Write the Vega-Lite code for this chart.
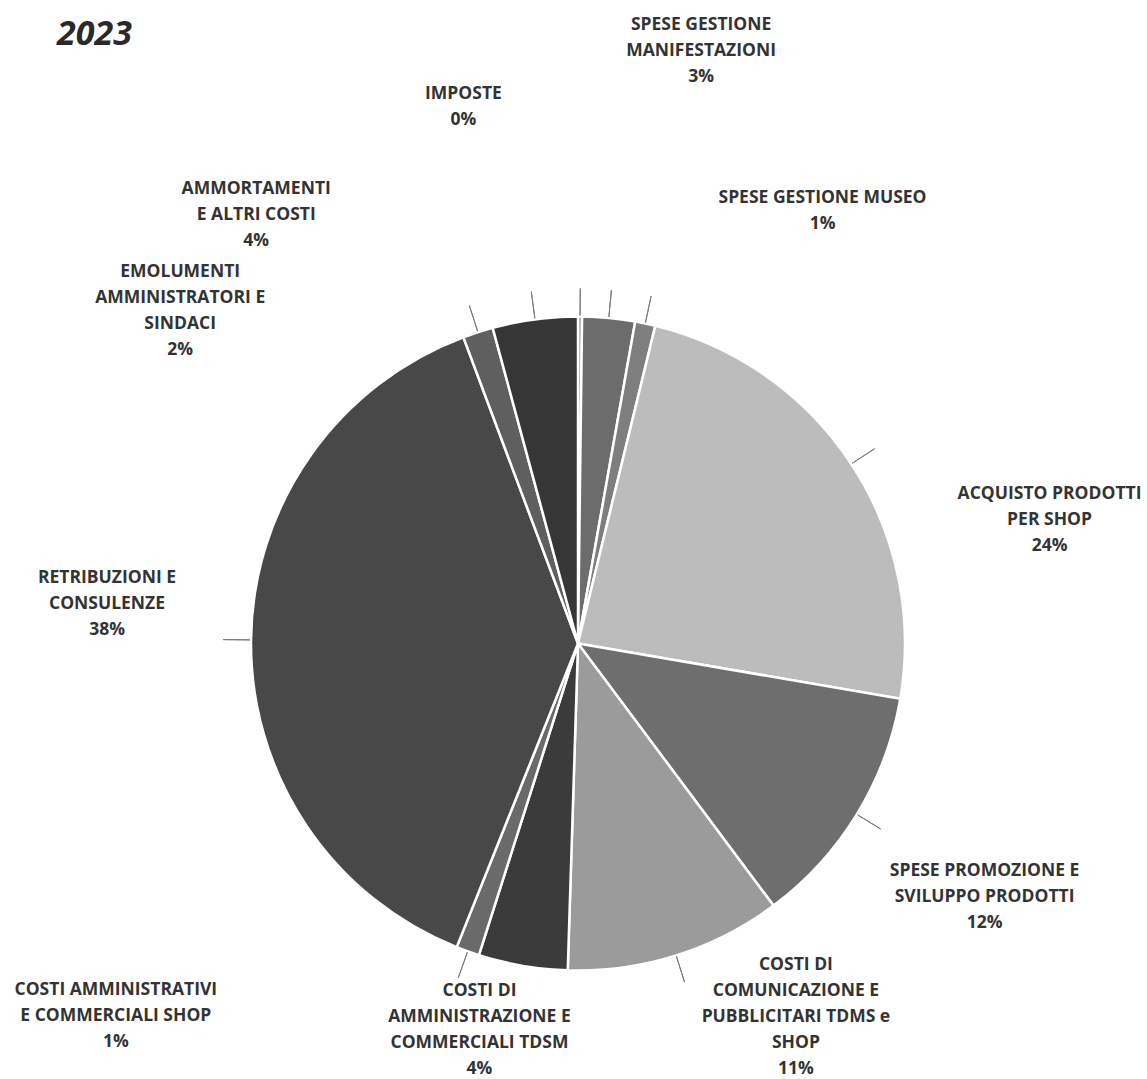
{
  "$schema": "https://vega.github.io/schema/vega-lite/v6.json",
  "autosize": {"type": "none"},
  "width": 1138,
  "height": 871,
  "padding": {"left": 9, "top": 208, "right": 0, "bottom": 0},
  "background": "white",
  "title": {
    "text": "2023",
    "anchor": "start",
    "frame": "group",
    "font": "Open Sans",
    "fontSize": 34,
    "fontWeight": "bold",
    "fontStyle": "italic",
    "color": "#2a2a2a",
    "offset": -38,
    "dx": 48
  },
  "data": {
    "values": [
      {"idx": 1, "cat": "IMPOSTE", "value": 0.2, "label": "IMPOSTE\n0%"},
      {"idx": 2, "cat": "SPESE GESTIONE MANIFESTAZIONI", "value": 2.6, "label": "SPESE GESTIONE\nMANIFESTAZIONI\n3%"},
      {"idx": 3, "cat": "SPESE GESTIONE MUSEO", "value": 1.0, "label": "SPESE GESTIONE MUSEO\n1%"},
      {"idx": 4, "cat": "ACQUISTO PRODOTTI PER SHOP", "value": 23.9, "label": "ACQUISTO PRODOTTI\nPER SHOP\n24%"},
      {"idx": 5, "cat": "SPESE PROMOZIONE E SVILUPPO PRODOTTI", "value": 12.1, "label": "SPESE PROMOZIONE E\nSVILUPPO PRODOTTI\n12%"},
      {"idx": 6, "cat": "COSTI DI COMUNICAZIONE E PUBBLICITARI TDMS e SHOP", "value": 10.7, "label": "COSTI DI\nCOMUNICAZIONE E\nPUBBLICITARI TDMS e\nSHOP\n11%"},
      {"idx": 7, "cat": "COSTI DI AMMINISTRAZIONE E COMMERCIALI TDSM", "value": 4.4, "label": "COSTI DI\nAMMINISTRAZIONE E\nCOMMERCIALI TDSM\n4%"},
      {"idx": 8, "cat": "COSTI AMMINISTRATIVI E COMMERCIALI SHOP", "value": 1.15, "label": "COSTI AMMINISTRATIVI\nE COMMERCIALI SHOP\n1%"},
      {"idx": 9, "cat": "RETRIBUZIONI E CONSULENZE", "value": 38.25, "label": "RETRIBUZIONI E\nCONSULENZE\n38%"},
      {"idx": 10, "cat": "EMOLUMENTI AMMINISTRATORI E SINDACI", "value": 1.5, "label": "EMOLUMENTI\nAMMINISTRATORI E\nSINDACI\n2%"},
      {"idx": 11, "cat": "AMMORTAMENTI E ALTRI COSTI", "value": 4.2, "label": "AMMORTAMENTI\nE ALTRI COSTI\n4%"}
    ]
  },
  "encoding": {
    "theta": {"field": "value", "type": "quantitative", "stack": true},
    "order": {"field": "idx", "type": "quantitative"}
  },
  "layer": [
    {
      "mark": {"type": "arc", "radius": 327, "stroke": "white", "strokeWidth": 2.5},
      "encoding": {
        "color": {
          "field": "cat",
          "type": "nominal",
          "legend": null,
          "scale": {
            "domain": ["IMPOSTE", "SPESE GESTIONE MANIFESTAZIONI", "SPESE GESTIONE MUSEO", "ACQUISTO PRODOTTI PER SHOP", "SPESE PROMOZIONE E SVILUPPO PRODOTTI", "COSTI DI COMUNICAZIONE E PUBBLICITARI TDMS e SHOP", "COSTI DI AMMINISTRAZIONE E COMMERCIALI TDSM", "COSTI AMMINISTRATIVI E COMMERCIALI SHOP", "RETRIBUZIONI E CONSULENZE", "EMOLUMENTI AMMINISTRATORI E SINDACI", "AMMORTAMENTI E ALTRI COSTI"],
            "range": ["#8a8a8a", "#6c6c6c", "#7e7e7e", "#bcbcbc", "#6e6e6e", "#9b9b9b", "#3b3b3b", "#6a6a6a", "#484848", "#5f5f5f", "#363636"]
          }
        }
      }
    },
    {
      "mark": {"type": "arc", "radius": 355, "radius2": 328, "padAngle": 3, "fillOpacity": 0, "stroke": "#7a7a7a", "strokeWidth": 1},
      "encoding": {
        "strokeOpacity": {"condition": {"test": "datum.cat === 'COSTI DI AMMINISTRAZIONE E COMMERCIALI TDSM'", "value": 0}, "value": 1}
      }
    },
    {"mark": {"type": "text", "radius": 549, "dx": -118, "dy": -1}, "encoding": {"text": {"condition": {"test": "datum.idx === 1", "field": "label", "type": "nominal"}, "value": ""}}},
    {"mark": {"type": "text", "radius": 607, "dx": 66, "dy": -14}, "encoding": {"text": {"condition": {"test": "datum.idx === 2", "field": "label", "type": "nominal"}, "value": ""}}},
    {"mark": {"type": "text", "radius": 498, "dx": 142, "dy": 42}, "encoding": {"text": {"condition": {"test": "datum.idx === 3", "field": "label", "type": "nominal"}, "value": ""}}},
    {"mark": {"type": "text", "radius": 490, "dx": 62, "dy": 120}, "encoding": {"text": {"condition": {"test": "datum.idx === 4", "field": "label", "type": "nominal"}, "value": ""}}},
    {"mark": {"type": "text", "radius": 478, "dx": -1, "dy": -22}, "encoding": {"text": {"condition": {"test": "datum.idx === 5", "field": "label", "type": "nominal"}, "value": ""}}},
    {"mark": {"type": "text", "radius": 433, "dx": 88, "dy": -92}, "encoding": {"text": {"condition": {"test": "datum.idx === 6", "field": "label", "type": "nominal"}, "value": ""}}},
    {"mark": {"type": "text", "radius": 400, "dx": -31, "dy": -47}, "encoding": {"text": {"condition": {"test": "datum.idx === 7", "field": "label", "type": "nominal"}, "value": ""}}},
    {"mark": {"type": "text", "radius": 300, "dx": -361, "dy": 64}, "encoding": {"text": {"condition": {"test": "datum.idx === 8", "field": "label", "type": "nominal"}, "value": ""}}},
    {"mark": {"type": "text", "radius": 473, "dx": 2, "dy": -60}, "encoding": {"text": {"condition": {"test": "datum.idx === 9", "field": "label", "type": "nominal"}, "value": ""}}},
    {"mark": {"type": "text", "radius": 519, "dx": -239, "dy": 123}, "encoding": {"text": {"condition": {"test": "datum.idx === 10", "field": "label", "type": "nominal"}, "value": ""}}},
    {"mark": {"type": "text", "radius": 538, "dx": -251, "dy": 79}, "encoding": {"text": {"condition": {"test": "datum.idx === 11", "field": "label", "type": "nominal"}, "value": ""}}}
  ],
  "config": {
    "view": {"stroke": null},
    "text": {
      "font": "Open Sans",
      "fontSize": 17.5,
      "fontWeight": "bold",
      "fill": "#333333",
      "align": "center",
      "baseline": "middle",
      "lineBreak": "\n",
      "lineHeight": 26
    }
  }
}
